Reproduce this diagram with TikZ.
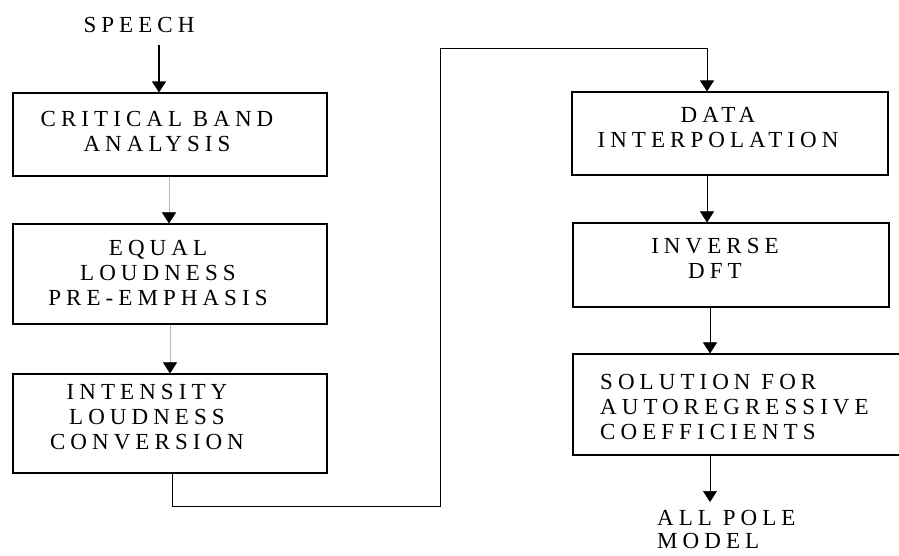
\documentclass[tikz,border=0pt]{standalone}
\usepackage{fontspec}
\setmainfont{Liberation Serif}[LetterSpace=22]
\usetikzlibrary{arrows.meta}
\begin{document}
\begin{tikzpicture}[x=1pt,y=-1pt,
  box/.style={draw, line width=1.1pt, inner sep=0pt, minimum width=314pt},
  txt/.style={inner sep=0pt, align=center, text depth=0pt,
    font=\fontsize{23}{25}\selectfont},
  txtl/.style={txt, align=left, anchor=west},
  head/.style={-{Triangle[width=14pt,length=11pt,color=black]}},
  thick arrow/.style={head, line width=1.3pt},
  thin arrow/.style={head, line width=0.5pt},
  faint arrow/.style={head, line width=0.4pt, draw=gray!55},
  loopline/.style={head, line width=1pt}]
\useasboundingbox (0,0) rectangle (899,556);

% left column
\node[txt] (speech) at (139,25) {SPEECH};
\node[box, minimum height=83pt] (b1) at (170,134.5) {};
\node[txt] (t1) at (157,131.25) {CRITICAL BAND\\ANALYSIS};
\node[box, minimum height=100pt] (b2) at (170,274) {};
\node[txt] (t2) at (158,272.75) {EQUAL\\LOUDNESS\\PRE-EMPHASIS};
\node[box, minimum height=99pt] (b3) at (170,423.5) {};
\node[txt] (t3) at (147,417) {INTENSITY\\LOUDNESS\\CONVERSION};

% right column
\node[box, minimum width=316pt, minimum height=83pt] (d1) at (730,133.5) {};
\node[txt] (u1) at (718,127.75) {DATA\\INTERPOLATION};
\node[box, minimum width=316pt, minimum height=84pt] (d2) at (731,265) {};
\node[txt] (u2) at (715,258) {INVERSE\\DFT};
\node[box, minimum width=332pt, minimum height=101pt] (d3) at (739,404.5) {};
\node[txtl] (u3) at (600,406.5) {SOLUTION FOR\\AUTOREGRESSIVE\\COEFFICIENTS};
\node[txtl, font=\fontsize{23}{23}\selectfont] (model) at (657,529.5) {ALL POLE\\MODEL};

% connectors
\coordinate (sp) at (159,45);
\draw[thick arrow] (sp) -- (sp |- b1.north);
\draw[faint arrow] ([xshift=-1pt]b1.south) -- ([xshift=-1pt]b2.north);
\draw[faint arrow] (b2.south) -- (b2.north |- b3.north);
\coordinate (k1) at (440,506);
\coordinate (k2) at (440,49);
\coordinate (k3) at (707,49);
\draw[loopline] ([xshift=2pt]b3.south) |- (k1) -- (k2) -- (k3) -- (k3 |- d1.north);
\draw[thin arrow] (k3 |- d1.south) -- (k3 |- d2.north);
\coordinate (r2) at (710,0);
\draw[thin arrow] (r2 |- d2.south) -- (r2 |- d3.north);
\coordinate (mp) at (710,502);
\draw[thin arrow] (mp |- d3.south) -- (mp);
\end{tikzpicture}
\end{document}
